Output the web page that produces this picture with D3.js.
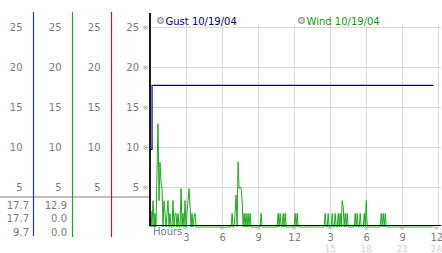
<!DOCTYPE html>
<html>
<head>
<meta charset="utf-8">
<script src="https://cdn.jsdelivr.net/npm/d3@7"></script>
<style>
  body { margin: 0; background: #fff; }
  text { font-family: 'DejaVu Sans', Verdana, sans-serif; }
</style>
</head>
<body>
<div id="chart"></div>
<script>
// Chart size
var w = 442;
var h = 253;

// Data
var yTicks = [5, 10, 15, 20, 25];
var hourTicks = [3, 6, 9, 12, 15, 18, 21, 24];
var legendLabels = ['Gust 10/19/04', 'Wind 10/19/04'];
var gustStats = [17.7, 17.7, 9.7];   // max, current, min
var windStats = [12.9, 0.0, 0.0];

// gust steps (hours, mph)
var gustHours = [0, 0.17, 23.6];
var gustValues = [9.7, 17.7, 17.7];

// wind readings every 5 minutes from midnight, one row per hour
var windStepMinutes = 5;
var windValues = [
  0, 2.0, 0, 3.3, 0, 1.7, 0, 7.1, 12.9, 3.3, 8.1, 5.6,
  4.8, 0, 3.3, 1.7, 0, 1.7, 3.3, 0, 1.7, 0, 0, 3.3,
  0, 1.7, 1.7, 0, 1.7, 0, 0, 4.8, 0, 1.7, 0, 3.3,
  0, 1.7, 3.3, 4.8, 2.6, 0, 1.7, 0, 1.2, 1.7, 0, 0,
  0, 0, 0, 0, 0, 0, 0, 0, 0, 0, 0, 0,
  0, 0, 0, 0, 0, 0, 0, 0, 0, 0, 0, 0,
  0, 0, 0, 0, 0, 0, 0, 0, 0, 0, 1.7, 0,
  0, 1.7, 4.0, 0, 8.1, 4.8, 5.0, 4.8, 3.3, 0, 1.7, 0,
  1.7, 0, 1.7, 0, 1.7, 0, 0, 0, 0, 0, 0, 0,
  0, 0, 0, 1.7, 0, 0, 0, 0, 0, 0, 0, 0,
  0, 0, 0, 0, 0, 0, 0, 0, 1.7, 0, 1.7, 0,
  0, 1.7, 0, 1.7, 0, 0, 0, 0, 0, 0, 0, 0,
  0, 1.7, 0, 1.7, 0, 0, 0, 0, 0, 0, 0, 0,
  0, 0, 0, 0, 0, 0, 0, 0, 0, 0, 0, 0,
  0, 0, 0, 0, 0, 0, 0, 1.7, 0, 0, 1.7, 0,
  0, 0, 1.7, 0, 0, 1.7, 0, 0, 1.7, 0, 1.7, 0,
  3.3, 2.6, 0, 1.7, 0, 1.7, 0, 0, 0, 0, 0, 0,
  0, 1.7, 0, 1.7, 0, 0, 1.7, 0, 0, 0, 1.7, 0,
  3.3, 0, 0, 0, 0, 0, 0, 0, 0, 0, 0, 0,
  0, 0, 0, 1.7, 0, 1.7, 0, 1.7, 0, 0, 0, 0,
  0, 0, 0, 0, 0, 0, 0, 0, 0, 0, 0, 0,
  0, 0, 0, 0, 0, 0, 0, 0, 0, 0, 0, 0,
  0, 0, 0, 0, 0, 0, 0, 0, 0, 0, 0, 0,
  0, 0, 0, 0, 0, 0, 0, 0
];

var gustColor = '#000080';
var windColor = '#1ea81e';
var labelColor = '#7c7c7c';

var svg = d3.select('#chart')
  .append('svg')
  .attr('width', w)
  .attr('height', h);

// Scales
var xScale = d3.scaleLinear().domain([0, 24]).range([150, 438.3]);
var yScale = d3.scaleLinear().domain([0, 25]).range([227, 27]);

// Gridlines
var grid = svg.append('g').attr('stroke', '#d9d9d9').attr('stroke-width', 1);
grid.selectAll('.hg')
  .data(yTicks)
  .enter()
  .append('line')
  .attr('x1', 150)
  .attr('x2', 441)
  .attr('y1', d => Math.round(yScale(d)) + 0.5)
  .attr('y2', d => Math.round(yScale(d)) + 0.5);
grid.selectAll('.vg')
  .data(hourTicks)
  .enter()
  .append('line')
  .attr('x1', d => Math.round(xScale(d)) + 0.5)
  .attr('x2', d => Math.round(xScale(d)) + 0.5)
  .attr('y1', 25)
  .attr('y2', 226);

// Left panel: one label column per series
var columns = [
  { x: 33.5, color: '#1f3c96', bottom: 236 },
  { x: 72.5, color: '#22a022', bottom: 237 },
  { x: 111.5, color: '#b22222', bottom: 237 },
];

// separator under the scale labels
svg.append('line')
  .attr('x1', 0)
  .attr('x2', 150)
  .attr('y1', 197)
  .attr('y2', 197)
  .attr('stroke', '#a8a8a8')
  .attr('stroke-width', 1.5);

columns.forEach(c => {
  svg.append('line')
    .attr('x1', c.x).attr('x2', c.x)
    .attr('y1', 12).attr('y2', c.bottom)
    .attr('stroke', c.color)
    .attr('stroke-width', 1.2);
});

[33.5, 72.5, 111.5, 150].forEach(cx => {
  var yAxis = d3.axisLeft(yScale)
    .tickValues(yTicks)
    .tickSize(0)
    .tickPadding(11);
  var g = svg.append('g')
    .attr('transform', `translate(${cx}, 0)`)
    .call(yAxis);
  g.select('.domain').remove();
  g.selectAll('text')
    .attr('fill', labelColor)
    .style('font-size', '10px')
    .style('font-family', "'DejaVu Sans', sans-serif");
});

// small tick glyphs next to main y labels
svg.selectAll('.ymark')
  .data(yTicks)
  .enter()
  .append('text')
  .attr('x', 145.5)
  .attr('y', d => yScale(d) + 2.5)
  .attr('text-anchor', 'middle')
  .attr('fill', '#a0a0a0')
  .style('font-size', '7px')
  .text('\u203B');

// stats under the separator
var statRows = [205, 218.5, 232.5];
svg.selectAll('.gstat')
  .data(gustStats)
  .enter()
  .append('text')
  .attr('x', 29)
  .attr('y', (d, i) => statRows[i])
  .attr('dy', '0.35em')
  .attr('text-anchor', 'end')
  .attr('fill', labelColor)
  .style('font-size', '10px')
  .text(d => d.toFixed(1));
svg.selectAll('.wstat')
  .data(windStats)
  .enter()
  .append('text')
  .attr('x', 67)
  .attr('y', (d, i) => statRows[i])
  .attr('dy', '0.35em')
  .attr('text-anchor', 'end')
  .attr('fill', labelColor)
  .style('font-size', '10px')
  .text(d => d.toFixed(1));

// Series
var windData = windValues.map((v, i) => ({ hour: i * windStepMinutes / 60, value: v }));
var gustData = gustHours.map((t, i) => ({ hour: t, value: gustValues[i] }));

var windLine = d3.line()
  .x(d => xScale(d.hour))
  .y(d => yScale(d.value));

var gustLine = d3.line()
  .x(d => xScale(d.hour))
  .y(d => yScale(d.value))
  .curve(d3.curveStepAfter);

svg.append('path')
  .datum(windData)
  .attr('d', windLine)
  .attr('fill', 'none')
  .attr('stroke', windColor)
  .attr('stroke-width', 1);

// main axes
svg.append('line')
  .attr('x1', 150).attr('x2', 441)
  .attr('y1', 225.5).attr('y2', 225.5)
  .attr('stroke', '#000')
  .attr('stroke-width', 1.2);
svg.append('line')
  .attr('x1', 150).attr('x2', 150)
  .attr('y1', 13).attr('y2', 226)
  .attr('stroke', '#000')
  .attr('stroke-width', 1.8);

svg.append('path')
  .datum(gustData)
  .attr('d', gustLine)
  .attr('fill', 'none')
  .attr('stroke', gustColor)
  .attr('stroke-width', 1.2);

// X axis labels (12 hour clock, 24h below)
var xAxis = d3.axisBottom(xScale)
  .tickValues(hourTicks)
  .tickSize(0)
  .tickPadding(0)
  .tickFormat(d => d > 12 ? d - 12 : d);
var xg = svg.append('g')
  .attr('transform', 'translate(0, 234)')
  .call(xAxis);
xg.select('.domain').remove();
xg.selectAll('text')
  .attr('fill', labelColor)
  .attr('x', d => d === 24 ? -2 : 0)
  .style('font-size', '10px')
  .style('font-family', "'DejaVu Sans', sans-serif");

svg.selectAll('.xmark')
  .data(hourTicks)
  .enter()
  .append('text')
  .attr('x', d => xScale(d) + (d === 24 ? -2 : 0))
  .attr('y', 230)
  .attr('text-anchor', 'middle')
  .attr('fill', '#a0a0a0')
  .style('font-size', '6.5px')
  .text('\u203B');

svg.selectAll('.x24')
  .data(hourTicks.filter(d => d > 12))
  .enter()
  .append('text')
  .attr('x', d => xScale(d) + (d === 24 ? -2 : 0))
  .attr('y', 252)
  .attr('text-anchor', 'middle')
  .attr('fill', '#d2d2d2')
  .style('font-size', '9px')
  .text(d => d);

svg.append('text')
  .attr('x', 153)
  .attr('y', 235)
  .attr('fill', labelColor)
  .style('font-size', '10px')
  .text('Hours');

// Legend
var legendX = [160.5, 301.5];
var legendColors = [gustColor, '#119911'];
legendLabels.forEach((label, i) => {
  svg.append('circle')
    .attr('cx', legendX[i])
    .attr('cy', 20.5)
    .attr('r', 2.8)
    .attr('fill', '#d8d8d8')
    .attr('stroke', '#999')
    .attr('stroke-width', 1.2);
  svg.append('text')
    .attr('x', legendX[i] + 5)
    .attr('y', 24.5)
    .attr('fill', legendColors[i])
    .style('font-size', '10px')
    .text(label);
});
</script>
</body>
</html>
